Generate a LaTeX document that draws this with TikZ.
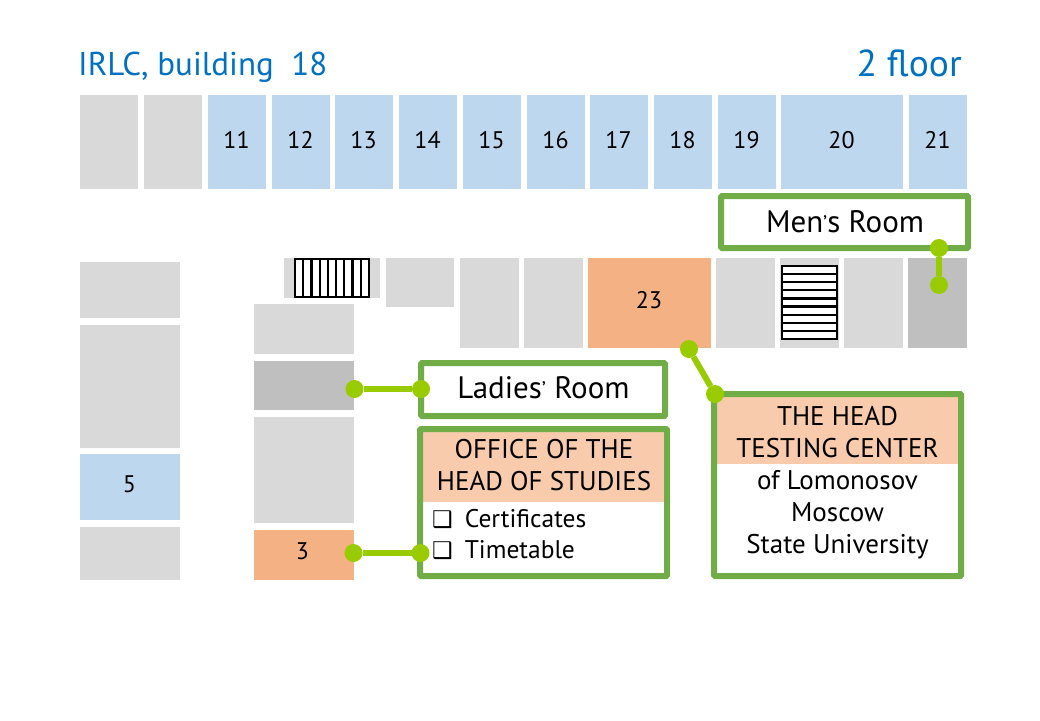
\documentclass[tikz,border=0pt]{standalone}
\usepackage{fontspec}
\setmainfont{PT Sans}
\newfontfamily\symfont{DejaVu Sans}
\usetikzlibrary{positioning}
\definecolor{roomgray}{HTML}{D9D9D9}
\definecolor{wcgray}{HTML}{BFBFBF}
\definecolor{roomblue}{HTML}{BDD7EE}
\definecolor{roomorange}{HTML}{F4B183}
\definecolor{headfill}{HTML}{F8CBAD}
\definecolor{boxgreen}{HTML}{70AD47}
\definecolor{linkgreen}{HTML}{99CC00}
\definecolor{titleblue}{HTML}{0070C0}
\tikzset{
	room/.style={inner sep=0pt,outer sep=0pt},
	roomlabel/.style={inner sep=0pt,font=\fontsize{24}{26}\selectfont},
	infobox/.style={draw=boxgreen,line width=6pt,rounded corners=1pt,inner sep=0pt,outer sep=0pt},
	headfillbox/.style={fill=headfill,inner sep=0pt,outer sep=0pt},
	linkdot/.style={circle,fill=linkgreen,inner sep=0pt,outer sep=0pt,minimum size=18pt},
	link/.style={draw=linkgreen,line width=6pt},
	boxtext/.style={font=\fontsize{27}{32}\selectfont,align=center,inner sep=0pt},
	doortext/.style={font=\fontsize{31}{32}\selectfont,inner sep=0pt},
	listtext/.style={anchor=west,inner sep=0pt,font=\fontsize{25.5}{28}\selectfont},
	stair/.style={draw=black,line width=2.2pt,fill=white}
}
% room from corner to corner
\newcommand{\room}[6]{%
	\pgfmathsetmacro{\rw}{#4-#2}\pgfmathsetmacro{\rh}{#5-#3}%
	\node[room,fill=#6,minimum width=\rw pt,minimum height=\rh pt] (#1) at ({(#2+#4)/2},{(#3+#5)/2}) {};}
\newcommand{\chk}{{\symfont\fontsize{23}{24}\selectfont\char"2751}}
\newcommand{\apos}{{\raisebox{2pt}{\fontsize{21}{21}\selectfont’}}}
\begin{document}
\begin{tikzpicture}[x=1pt,y=-1pt,line cap=butt]
	\useasboundingbox (0,0) rectangle (1040,720);
	% title
	\node[anchor=west,inner sep=0pt,text=titleblue,font=\fontsize{33}{36}\selectfont] (title) at (78,67) {IRLC, building\ \ 18};
	\node[anchor=east,inner sep=0pt,text=titleblue,font=\fontsize{37.5}{40}\selectfont] (floor) at (962,63) {2 floor};
	% upper row
	\room{r1}{80}{95}{138}{189}{roomgray}
	\room{r2}{144}{95}{202}{189}{roomgray}
	\foreach \n/\xa/\xb in {11/208/266,12/272/330,13/335/393,14/399/457,15/463/521,16/527/585,17/590/648,18/654/712,19/718/776,20/781/903,21/909/967}
		{\room{r\n}{\xa}{95}{\xb}{189}{roomblue}
		\node[roomlabel] (l\n) at ({(\xa+\xb)/2-0.5},140) {\n};}
	% lower row
	\room{s1}{284}{258}{380}{298}{roomgray}
	\room{s2}{386}{258}{454}{307}{roomgray}
	\room{s3}{460}{258}{519}{348}{roomgray}
	\room{s4}{524}{258}{583}{348}{roomgray}
	\room{r23}{588}{258}{711}{348}{roomorange}
	\node[roomlabel] (l23) at (649,300) {23};
	\room{s5}{716}{258}{775}{348}{roomgray}
	\room{s6}{780}{258}{839}{348}{roomgray}
	\room{s7}{844}{258}{903}{348}{roomgray}
	\room{wcm}{908}{258}{967}{348}{wcgray}
	% left columns
	\room{a1}{80}{262}{180}{318}{roomgray}
	\room{a2}{80}{325}{180}{448}{roomgray}
	\room{r5}{80}{454}{180}{520}{roomblue}
	\node[roomlabel] (l5) at (129.5,484) {5};
	\room{a3}{80}{527}{180}{580}{roomgray}
	\room{b1}{254}{304}{354}{354}{roomgray}
	\room{wcl}{254}{361}{354}{410}{wcgray}
	\room{b2}{254}{417}{354}{523}{roomgray}
	\room{r3}{254}{530}{354}{580}{roomorange}
	\node[roomlabel] (l3) at (302.5,551) {3};
	% stairs
	\draw[stair] (295,259) rectangle (369,297);
	\foreach \i in {1,...,8}
		\draw[line width=2.2pt] ({295+\i*74/9},259) -- ({295+\i*74/9},297);
	\draw[stair] (782,266) rectangle (837,339);
	\foreach \i in {1,...,8}
		\draw[line width=2.2pt] (782,{266+\i*73/9}) -- (837,{266+\i*73/9});
	% boxes
	\node[infobox,fill=white,minimum width=247pt,minimum height=52pt] (men) at (844.5,222) {};
	\node[doortext] (mentext) at (845,222) {Men\apos s Room};
	\node[infobox,fill=white,minimum width=244pt,minimum height=53pt] (ladies) at (543,389.5) {};
	\node[doortext] (ladiestext) at (543.5,387.5) {Ladies\apos\ Room};
	\node[headfillbox,minimum width=247pt,minimum height=73pt] (officehead) at (543.5,465.5) {};
	\node[boxtext] (officetitle) at (544,465.5) {OFFICE OF THE\\HEAD OF STUDIES};
	\node[infobox,minimum width=247pt,minimum height=147pt] (office) at (543.5,502.5) {};
	\node[listtext] (cert) at (432,518.5) {\chk\hspace{12pt}Certificates};
	\node[listtext] (time) at (432,550.5) {\chk\hspace{12pt}Timetable};
	\node[headfillbox,minimum width=247pt,minimum height=73pt] (testhead) at (837.5,427.5) {};
	\node[boxtext] (testtitle) at (837.5,432.5) {THE HEAD\\TESTING CENTER};
	\node[infobox,minimum width=247pt,minimum height=182pt] (test) at (837.5,485) {};
	\node[boxtext] (testtext) at (837.5,514.5) {of Lomonosov\\Moscow\\State University};
	% links
	\node[linkdot] (d1) at (939,248) {};
	\node[linkdot] (d2) at (939,285) {};
	\node[linkdot] (d3) at (354.5,389) {};
	\node[linkdot] (d4) at (421,389) {};
	\node[linkdot] (d5) at (353.5,553) {};
	\node[linkdot] (d6) at (420.5,553) {};
	\node[linkdot] (d7) at (689,349) {};
	\node[linkdot] (d8) at (715,394) {};
	\draw[link] (d1) -- (d2);
	\draw[link] (d3) -- (d4);
	\draw[link] (d5) -- (d6);
	\draw[link] (d7) -- (d8);
\end{tikzpicture}
\end{document}
